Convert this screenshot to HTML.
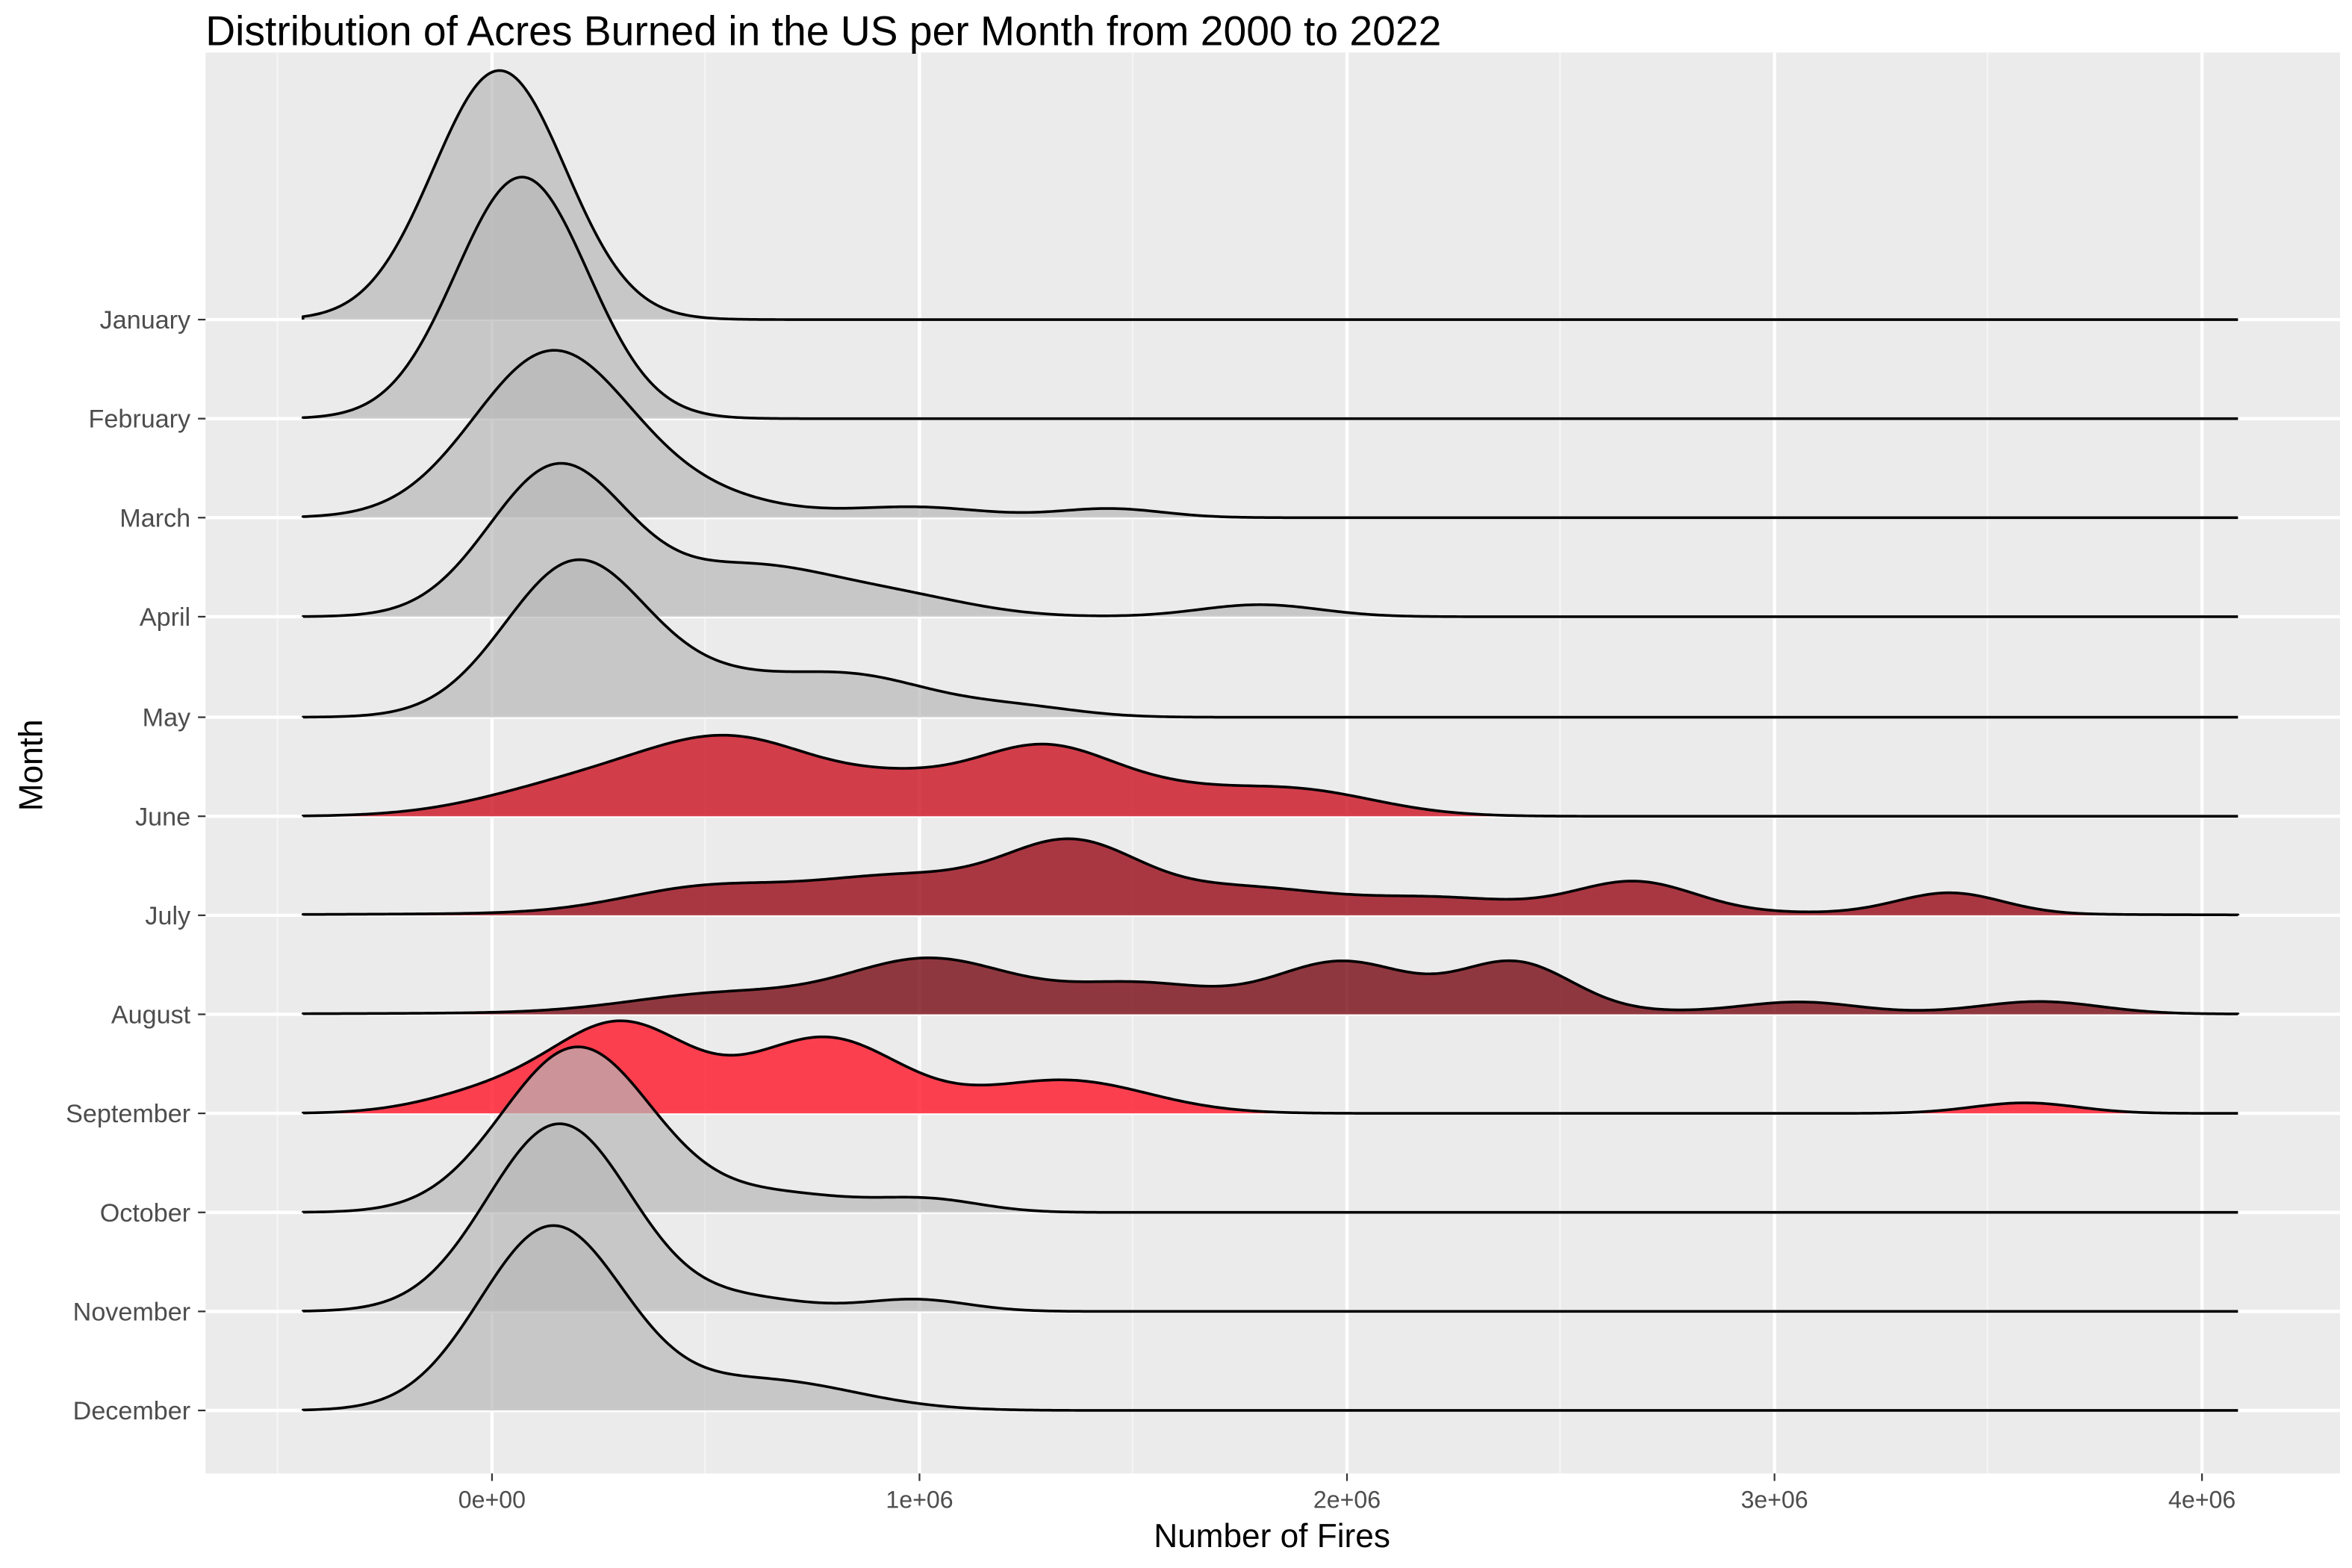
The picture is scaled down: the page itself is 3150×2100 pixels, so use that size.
<!DOCTYPE html>
<html><head><meta charset="utf-8"><style>
html,body{margin:0;padding:0;background:#fff}
svg{display:block}
text{font-family:"Liberation Sans",Arial,sans-serif}
</style></head><body>
<svg id="s" width="3150" height="2100" viewBox="0 0 1568 1045" preserveAspectRatio="none" xmlns="http://www.w3.org/2000/svg">
<rect x="0" y="0" width="1568" height="1045" fill="#fff"/>
<rect x="137" y="35" width="1423" height="947" fill="#ebebeb"/>
<g stroke="#f5f5f5" stroke-width="1.1">
<line x1="185" y1="35" x2="185" y2="982"/><line x1="470" y1="35" x2="470" y2="982"/><line x1="755" y1="35" x2="755" y2="982"/><line x1="1040" y1="35" x2="1040" y2="982"/><line x1="1325" y1="35" x2="1325" y2="982"/>
</g>
<g stroke="#fff" stroke-width="2.2">
<line x1="328" y1="35" x2="328" y2="982"/><line x1="613" y1="35" x2="613" y2="982"/><line x1="898" y1="35" x2="898" y2="982"/><line x1="1183" y1="35" x2="1183" y2="982"/><line x1="1468" y1="35" x2="1468" y2="982"/>
<line x1="137" y1="213" x2="1560" y2="213"/><line x1="137" y1="279" x2="1560" y2="279"/><line x1="137" y1="345" x2="1560" y2="345"/><line x1="137" y1="411" x2="1560" y2="411"/><line x1="137" y1="478" x2="1560" y2="478"/><line x1="137" y1="544" x2="1560" y2="544"/><line x1="137" y1="610" x2="1560" y2="610"/><line x1="137" y1="676" x2="1560" y2="676"/><line x1="137" y1="742" x2="1560" y2="742"/><line x1="137" y1="808" x2="1560" y2="808"/><line x1="137" y1="874" x2="1560" y2="874"/><line x1="137" y1="940" x2="1560" y2="940"/>
</g>
<g id="ridges"></g>
<g fill="#4d4d4d" font-size="17" text-anchor="end">
<text x="127" y="219">January</text><text x="127" y="285">February</text><text x="127" y="351">March</text><text x="127" y="417">April</text><text x="127" y="484">May</text><text x="127" y="550">June</text><text x="127" y="616">July</text><text x="127" y="682">August</text><text x="127" y="748">September</text><text x="127" y="814">October</text><text x="127" y="880">November</text><text x="127" y="946">December</text>
</g>
<g stroke="#333" stroke-width="1.1">
<line x1="132" y1="213" x2="137" y2="213"/><line x1="132" y1="279" x2="137" y2="279"/><line x1="132" y1="345" x2="137" y2="345"/><line x1="132" y1="411" x2="137" y2="411"/><line x1="132" y1="478" x2="137" y2="478"/><line x1="132" y1="544" x2="137" y2="544"/><line x1="132" y1="610" x2="137" y2="610"/><line x1="132" y1="676" x2="137" y2="676"/><line x1="132" y1="742" x2="137" y2="742"/><line x1="132" y1="808" x2="137" y2="808"/><line x1="132" y1="874" x2="137" y2="874"/><line x1="132" y1="940" x2="137" y2="940"/>
<line x1="328" y1="982" x2="328" y2="987"/><line x1="613" y1="982" x2="613" y2="987"/><line x1="898" y1="982" x2="898" y2="987"/><line x1="1183" y1="982" x2="1183" y2="987"/><line x1="1468" y1="982" x2="1468" y2="987"/>
</g>
<g fill="#4d4d4d" font-size="16" text-anchor="middle">
<text x="328" y="1005">0e+00</text><text x="613" y="1005">1e+06</text><text x="898" y="1005">2e+06</text><text x="1183" y="1005">3e+06</text><text x="1468" y="1005">4e+06</text>
</g>
<text x="848" y="1031" font-size="22" text-anchor="middle" fill="#000">Number of Fires</text>
<text transform="translate(28,510) rotate(-90)" font-size="22" text-anchor="middle" fill="#000">Month</text>
<text x="137" y="30" font-size="27.5" fill="#000">Distribution of Acres Burned in the US per Month from 2000 to 2022</text>
</svg>
<script>
var G='rgba(184,184,184,0.7)';
var R=[
[213,G,[[333,166,44]]],
[279,G,[[348,161,44]]],
[345,G,[[368,110,52],[470,12,50],[610,7,45],[740,6,35]]],
[411,G,[[372,100,46],[500,32,55],[600,12,50],[840,8,40]]],
[478,G,[[385,104,48],[480,14,40],[565,28,55],[680,6,40]]],
[544,'rgba(204,17,34,0.8)',[[380,18,60],[490,50,62],[600,14,40],[695,46,50],[860,18,55],[780,8,40]]],
[610,'rgba(152,10,24,0.8)',[[470,16,55],[600,22,60],[715,42,45],[830,14,55],[960,8,50],[1090,20,40],[1300,14,35],[800,4,300]]],
[676,'rgba(120,10,20,0.8)',[[480,12,60],[620,34,55],[760,17,50],[895,32,45],[1010,32,38],[1200,7,38],[1360,8,40],[800,3,300]]],
[742,'rgba(255,20,40,0.8)',[[330,14,45],[415,58,45],[550,50,50],[710,22,55],[1350,7,35]]],
[808,G,[[385,110,50],[520,12,50],[620,8,35]]],
[874,G,[[373,125,48],[500,8,40],[610,8,35]]],
[940,G,[[368,122,48],[510,20,60]]]
];
var g=document.getElementById('ridges'),h='';
R.forEach(function(r){var b=r[0],d='M202,'+b;
for(var x=202;x<=1492;x+=2){var y=0;r[2].forEach(function(k){y+=k[1]*Math.exp(-Math.pow((x-k[0])/k[2],2)/2);});d+=' L'+x+','+(b-y).toFixed(2);}
d+=' L1492,'+b;
h+='<path d="'+d+' Z" fill="'+r[1]+'" stroke="none"/>';
h+='<path d="'+d+'" fill="none" stroke="#000" stroke-width="1.8" stroke-linejoin="round"/>';});
g.innerHTML=h;
</script>
</body></html>
